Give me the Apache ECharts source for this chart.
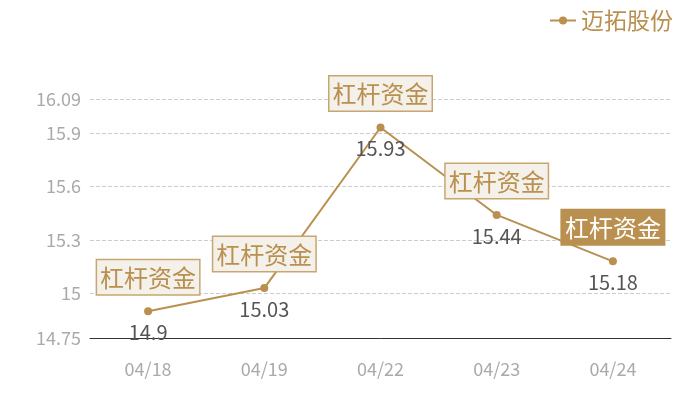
<!DOCTYPE html>
<html><head><meta charset="utf-8">
<script src="https://cdn.jsdelivr.net/npm/echarts@6/dist/echarts.min.js"></script>
<style>html,body{margin:0;padding:0;background:#fff}#c{width:700px;height:400px}</style>
</head><body><div id="c"></div>
<script>
const categories = ['04/18', '04/19', '04/22', '04/23', '04/24'];
const prices = [14.9, 15.03, 15.93, 15.44, 15.18];
const yTicks = [14.75, 15, 15.3, 15.6, 15.9, 16.09];
const seriesName = '迈拓股份';
const tagText = '杠杆资金';
const highlighted = [false, false, false, false, true];

const gold = '#b9904f';
const font = '"Noto Sans CJK SC", "Noto Sans", sans-serif';

const chart = echarts.init(document.getElementById('c'));
chart.setOption({
  animation: false,
  textStyle: { fontFamily: font },
  legend: {
    data: [seriesName],
    right: 22, top: 4,
    itemWidth: 26, itemHeight: 10,
    textStyle: { fontSize: 23, color: gold, fontFamily: font }
  },
  grid: { left: 90, right: 29, top: 99, bottom: 62 },
  xAxis: {
    type: 'category',
    data: categories,
    axisLine: { lineStyle: { color: '#333', width: 1 } },
    axisTick: { show: false },
    axisLabel: { color: '#aaa', fontSize: 18, margin: 22, fontFamily: font }
  },
  yAxis: {
    type: 'value',
    min: 14.75, max: 16.09,
    axisLine: { show: false },
    axisTick: { show: false, customValues: yTicks },
    axisLabel: { color: '#aaa', fontSize: 18, margin: 9, customValues: yTicks, fontFamily: font },
    splitLine: { show: true, lineStyle: { type: 'dashed', color: '#ccc', width: 1 } }
  },
  series: [{
    name: seriesName,
    type: 'line',
    data: prices,
    symbol: 'circle',
    symbolSize: 8,
    color: gold,
    lineStyle: { width: 2, color: gold },
    label: {
      show: true, position: 'bottom', distance: 7,
      color: '#555', fontSize: 20, fontFamily: font
    },
    markPoint: {
      symbol: 'circle', symbolSize: 0,
      itemStyle: { color: 'transparent' },
      label: {
        show: true, position: 'top', distance: 17,
        formatter: tagText,
        color: gold, fontSize: 24, lineHeight: 29, fontFamily: font,
        backgroundColor: '#f4f0ea',
        borderColor: '#c9a66f', borderWidth: 1.5,
        padding: [3, 3, 2, 3]
      },
      data: prices.map((v, i) => highlighted[i]
        ? { coord: [i, v], label: { color: '#fff', backgroundColor: gold, borderColor: gold } }
        : { coord: [i, v] })
    }
  }]
});
</script></body></html>
